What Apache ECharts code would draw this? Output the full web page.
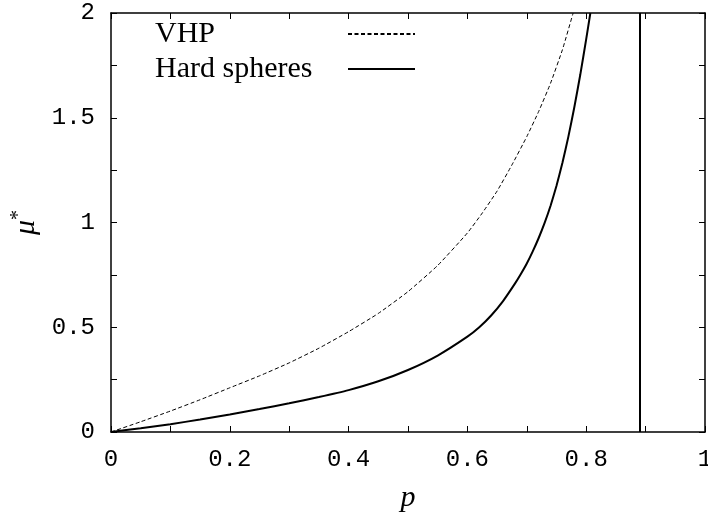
<!DOCTYPE html>
<html>
<head>
<meta charset="utf-8">
<script src="https://cdn.jsdelivr.net/npm/echarts@6/dist/echarts.min.js"></script>
<style>
  html, body { margin: 0; padding: 0; background: #fff; }
  #chart { width: 708px; height: 512px; }
</style>
</head>
<body>
<div id="chart"></div>
<script>
// Packing fraction p and reduced quantity mu* for the two models
const pVHP = [0, 0.05, 0.1, 0.15, 0.2, 0.25, 0.3, 0.35, 0.4, 0.45, 0.5, 0.55, 0.6, 0.625, 0.65, 0.675, 0.7, 0.72, 0.74, 0.76, 0.778];
const muVHP = [0, 0.049, 0.100, 0.154, 0.211, 0.268, 0.330, 0.400, 0.479, 0.566, 0.670, 0.795, 0.950, 1.045, 1.150, 1.275, 1.410, 1.530, 1.665, 1.825, 2.0];

const pHS = [0, 0.05, 0.1, 0.15, 0.2, 0.25, 0.3, 0.35, 0.4, 0.45, 0.5, 0.55, 0.6, 0.62, 0.64, 0.66, 0.68, 0.69, 0.7, 0.71, 0.72, 0.73, 0.74, 0.75, 0.76, 0.77, 0.78, 0.79, 0.8, 0.807];
const muHS = [0, 0.018, 0.037, 0.060, 0.084, 0.110, 0.137, 0.167, 0.200, 0.242, 0.296, 0.365, 0.455, 0.500, 0.556, 0.625, 0.708, 0.754, 0.804, 0.862, 0.926, 0.998, 1.080, 1.175, 1.285, 1.410, 1.550, 1.705, 1.875, 2.0];

// Close-packing limit drawn as a vertical line
const packingLimit = 0.893;

const xLabels = ['0', '0.2', '0.4', '0.6', '0.8', '1'];
const yLabels = ['0', '0.5', '1', '1.5', '2'];

const pairs = (xs, ys) => xs.map((x, i) => [x, ys[i]]);

const monoFont = 'Liberation Mono';
const serifFont = 'Liberation Serif';

function xLabelFor(v) {
  const k = Math.round(v * 10);
  return k % 2 === 0 ? xLabels[k / 2] : '';
}
function yLabelFor(v) {
  const k = Math.round(v * 4);
  return k % 2 === 0 ? yLabels[k / 2] : '';
}

const frameLine = { show: true, onZero: false, lineStyle: { color: '#000', width: 1.5 } };
const tickStyle = { show: true, inside: true, length: 6, lineStyle: { color: '#000', width: 1 } };

const chart = echarts.init(document.getElementById('chart'));
chart.setOption({
  animation: false,
  backgroundColor: '#fff',
  grid: { left: 111, right: 3, top: 13, bottom: 80, containLabel: false, outerBoundsMode: 'none' },
  legend: {
    left: 155,
    top: 19,
    padding: 0,
    orient: 'vertical',
    align: 'right',
    selectedMode: false,
    itemWidth: 67,
    itemHeight: 30,
    itemGap: 5,
    itemStyle: { opacity: 0 },
    formatter: '{t|{name}}',
    textStyle: {
      fontFamily: serifFont, fontSize: 30, color: '#000',
      rich: { t: { fontFamily: serifFont, fontSize: 30, color: '#000', width: 188, align: 'left', lineHeight: 30 } }
    },
    data: ['VHP', 'Hard spheres']
  },
  xAxis: [{
    type: 'value', min: 0, max: 1, interval: 0.1,
    position: 'bottom',
    axisLine: frameLine,
    axisTick: tickStyle,
    splitLine: { show: false },
    axisLabel: { formatter: xLabelFor, fontFamily: monoFont, fontSize: 24, color: '#000', margin: 16 },
    name: 'p',
    nameLocation: 'middle',
    nameGap: 51,
    nameTextStyle: { fontFamily: serifFont, fontStyle: 'italic', fontSize: 30, color: '#000' }
  }, {
    type: 'value', min: 0, max: 1, interval: 0.1,
    position: 'top',
    axisLine: frameLine,
    axisTick: tickStyle,
    splitLine: { show: false },
    axisLabel: { show: false }
  }],
  yAxis: [{
    type: 'value', min: 0, max: 2, interval: 0.25,
    position: 'left',
    axisLine: frameLine,
    axisTick: tickStyle,
    splitLine: { show: false },
    axisLabel: { formatter: yLabelFor, fontFamily: monoFont, fontSize: 24, color: '#000', margin: 16 },
    name: '{m|μ}{s|*}',
    nameLocation: 'middle',
    nameRotate: 90,
    nameGap: 68,
    nameTextStyle: {
      rich: {
        m: { fontFamily: serifFont, fontStyle: 'italic', fontSize: 30, color: '#000' },
        s: { fontFamily: serifFont, fontSize: 20, color: '#000', padding: [0, 0, 14, 0] }
      }
    }
  }, {
    type: 'value', min: 0, max: 2, interval: 0.25,
    position: 'right',
    axisLine: frameLine,
    axisTick: tickStyle,
    splitLine: { show: false },
    axisLabel: { show: false }
  }],
  series: [{
    name: 'VHP',
    type: 'line',
    data: pairs(pVHP, muVHP),
    showSymbol: false,
    symbol: 'none',
    smooth: 0.15,
    lineStyle: { color: '#000', width: 1, type: [4, 2.5] },
    itemStyle: { color: '#000' }
  }, {
    name: 'Hard spheres',
    type: 'line',
    data: pairs(pHS, muHS),
    showSymbol: false,
    symbol: 'none',
    smooth: 0.15,
    lineStyle: { color: '#000', width: 2 },
    itemStyle: { color: '#000' },
    markLine: {
      silent: true,
      symbol: 'none',
      label: { show: false },
      lineStyle: { color: '#000', width: 2, type: 'solid' },
      data: [{ xAxis: packingLimit }]
    }
  }]
});
</script>
</body>
</html>
